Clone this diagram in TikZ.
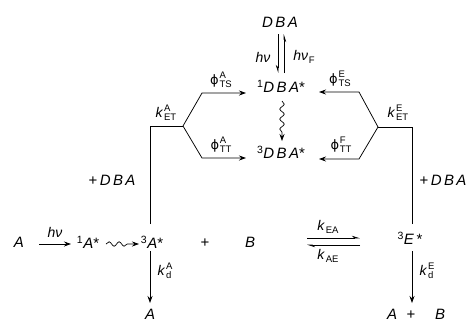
\documentclass[tikz,border=0pt]{standalone}
\usepackage{fontspec}
\setmainfont{Liberation Sans}
\newfontfamily\phifont{DejaVu Sans}
\usetikzlibrary{arrows.meta,decorations.pathmorphing}
\newcommand{\vDBA}{\textit{D\kern2.4pt B\kern2.4pt A}}
\newcommand{\sps}[2]{\begingroup\fontsize{9.5}{9.5}\selectfont\upshape\setbox0\hbox{#1}\setbox2\hbox{#2}\ifdim\wd0<\wd2 \wd0=\wd2\fi\ifdim\wd2<\wd0 \wd2=\wd0\fi\kern0.8pt\rlap{\raise6pt\box0}\lower3.2pt\box2\endgroup}
\newcommand{\vphi}{{\phifont\fontsize{13}{13}\selectfont ϕ}}
\begin{document}
\begin{tikzpicture}[x=1pt,y=-1pt,
  txt/.style={inner sep=0pt,font=\fontsize{15}{15}\selectfont},
  lbl/.style={inner sep=0pt,font=\fontsize{14}{14}\selectfont},
  ln/.style={line width=0.75pt},
  arr/.style={line width=0.75pt,-{Stealth[length=7pt,width=5pt]}},
  harp/.style={line width=0.75pt,-{Stealth[length=7pt,width=4.5pt,right]}},
  harpl/.style={line width=0.75pt,-{Stealth[length=7pt,width=4.5pt,left]}},
  wavy/.style={line width=0.7pt,decorate,decoration={snake,amplitude=2.2pt,segment length=10pt,post length=7pt},-{Stealth[length=7pt,width=5pt]}}]
\useasboundingbox (0,0) rectangle (470,322);
% top
\node[txt] (DBA) at (280,22) {\vDBA};
\node[txt] (S1) at (281,86) {\textsuperscript{1}\vDBA*};
\node[txt] (T1) at (281,152) {\textsuperscript{3}\vDBA*};
\coordinate (hvd1) at (278,34);
\coordinate (hvd2) at (278,73);
\coordinate (hvu1) at (284,73);
\coordinate (hvu2) at (284,34);
\draw[harp] (hvd1) -- (hvd2);
\draw[harp] (hvu1) -- (hvu2);
\node[lbl] (hv1) at (263,57) {\textit{hν}};
\node[lbl] (hvF) at (304,57) {\textit{hν}\sps{}{F}};
\coordinate (w1) at (282,101);
\coordinate (w2) at (282,141);
\draw[wavy] (w1) -- (w2);
% left branch
\coordinate (LV) at (150,224);
\coordinate (LC) at (150,126);
\coordinate (LJ) at (183,126);
\coordinate (LTS) at (202,93);
\coordinate (LTT) at (202,158);
\coordinate (LTSe) at (246,93);
\coordinate (LTTe) at (246,158);
\draw[ln] (LV) -- (LC) -- (LJ);
\draw[arr] (LJ) -- (LTS) -- (LTSe);
\draw[arr] (LJ) -- (LTT) -- (LTTe);
\node[lbl] (kETA) at (166,113) {\textit{k}\sps{A}{ET}};
\node[lbl] (phATS) at (221,80) {\vphi\sps{A}{TS}};
\node[lbl] (phATT) at (221,145) {\vphi\sps{A}{TT}};
\node[txt] (pDBAl) at (112,180) {+\,\vDBA};
% right branch
\coordinate (RV) at (412,224);
\coordinate (RC) at (412,127);
\coordinate (RJ) at (378,127);
\coordinate (RTS) at (359,92);
\coordinate (RTT) at (359,159);
\coordinate (RTSe) at (319,92);
\coordinate (RTTe) at (319,159);
\draw[ln] (RV) -- (RC) -- (RJ);
\draw[arr] (RJ) -- (RTS) -- (RTSe);
\draw[arr] (RJ) -- (RTT) -- (RTTe);
\node[lbl] (kETE) at (398,113) {\textit{k}\sps{E}{ET}};
\node[lbl] (phETS) at (340,79) {\vphi\sps{E}{TS}};
\node[lbl] (phFTT) at (341,145) {\vphi\sps{F}{TT}};
\node[txt] (pDBAr) at (443,180) {+\,\vDBA};
% bottom row
\node[txt] (A0) at (19,242) {\textit{A}};
\node[txt] (A1) at (88,242) {\textsuperscript{1}\textit{A}*};
\node[txt] (A3) at (152,242) {\textsuperscript{3}\textit{A}*};
\node[txt] (plus) at (205,243) {+};
\node[txt] (B) at (250,242) {\textit{B}};
\node[txt] (E3) at (410,238) {\textsuperscript{3}\textit{E}\,*};
\coordinate (a0s) at (39,244);
\coordinate (a0e) at (71,244);
\draw[arr] (a0s) -- (a0e);
\node[lbl] (hvA) at (55,232) {\textit{hν}};
\coordinate (wa1) at (106,244);
\coordinate (wa2) at (139,244);
\draw[wavy] (wa1) -- (wa2);
% equilibrium
\coordinate (eq1) at (307,238);
\coordinate (eq2) at (360,238);
\coordinate (eq3) at (360,245);
\coordinate (eq4) at (307,245);
\draw[harpl] (eq1) -- (eq2);
\draw[harpl] (eq3) -- (eq4);
\node[lbl] (kEA) at (328,227) {\textit{k}\sps{}{EA}};
\node[lbl] (kAE) at (328,256) {\textit{k}\sps{}{AE}};
% decays
\node[txt] (Ad) at (150,314) {\textit{A}};
\coordinate (kd1) at (150,251);
\coordinate (kd1e) at (150,303);
\draw[arr] (kd1) -- (kd1e);
\node[lbl] (kdA) at (165,271) {\textit{k}\sps{A}{d}};
\node[txt] (Af) at (392,314) {\textit{A}};
\node[txt] (plusf) at (411,315) {+};
\node[txt] (Bf) at (440,314) {\textit{B}};
\coordinate (kd2) at (412,251);
\coordinate (kd2e) at (412,303);
\draw[arr] (kd2) -- (kd2e);
\node[lbl] (kdE) at (427,271) {\textit{k}\sps{E}{d}};
\end{tikzpicture}
\end{document}
